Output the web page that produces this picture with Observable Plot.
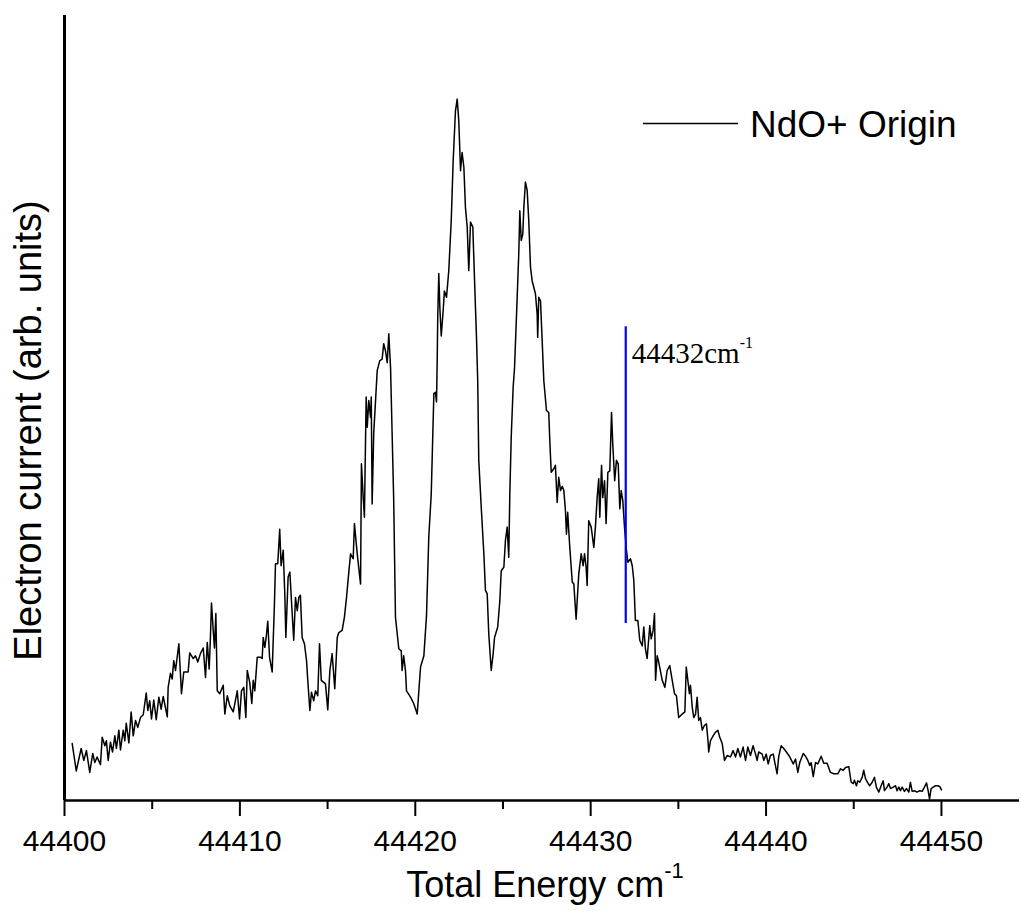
<!DOCTYPE html>
<html>
<head>
<meta charset="utf-8">
<script src="https://cdn.jsdelivr.net/npm/d3@7"></script>
<script src="https://cdn.jsdelivr.net/npm/@observablehq/plot@0.6"></script>
<style>
  body { margin: 0; background: #fff; }
  svg { display: block; }
</style>
</head>
<body>
<script>
// Photoelectron spectrum of NdO+ near its origin: total energy (cm-1) vs. electron current.
const energy = [
  44400.44, 44400.67, 44400.95, 44401.10, 44401.25, 44401.44, 44401.61, 44401.73, 44401.86, 44402.05,
  44402.15, 44402.30, 44402.39, 44402.49, 44402.62, 44402.74, 44402.87, 44402.96, 44403.10, 44403.19,
  44403.35, 44403.44, 44403.52, 44403.67, 44403.80, 44403.92, 44404.05, 44404.18, 44404.33, 44404.49,
  44404.66, 44404.75, 44404.86, 44404.96, 44405.09, 44405.23, 44405.38, 44405.51, 44405.63, 44405.86,
  44405.91, 44406.04, 44406.14, 44406.23, 44406.33, 44406.52, 44406.67, 44406.80, 44407.05, 44407.14,
  44407.34, 44407.47, 44407.60, 44407.75, 44407.91, 44408.04, 44408.14, 44408.25, 44408.32, 44408.38,
  44408.48, 44408.55, 44408.63, 44408.71, 44408.85, 44409.05, 44409.14, 44409.28, 44409.42, 44409.62,
  44409.85, 44409.98, 44410.09, 44410.22, 44410.34, 44410.42, 44410.56, 44410.68, 44410.76, 44410.85,
  44410.99, 44411.17, 44411.27, 44411.33, 44411.42, 44411.50, 44411.59, 44411.69, 44411.84, 44411.97,
  44412.03, 44412.16, 44412.27, 44412.35, 44412.47, 44412.56, 44412.62, 44412.75, 44412.85, 44412.94,
  44413.07, 44413.17, 44413.27, 44413.36, 44413.45, 44413.55, 44413.68, 44413.80, 44413.87, 44413.99,
  44414.08, 44414.21, 44414.31, 44414.44, 44414.54, 44414.64, 44414.88, 44415.01, 44415.13, 44415.26,
  44415.41, 44415.55, 44415.64, 44415.83, 44415.96, 44416.08, 44416.21, 44416.31, 44416.46, 44416.53,
  44416.69, 44416.88, 44416.93, 44417.03, 44417.10, 44417.20, 44417.26, 44417.35, 44417.45, 44417.49,
  44417.54, 44417.63, 44417.83, 44417.98, 44418.11, 44418.20, 44418.30, 44418.40, 44418.49, 44418.59,
  44418.68, 44418.77, 44418.87, 44419.06, 44419.20, 44419.25, 44419.34, 44419.44, 44419.50, 44419.73,
  44419.91, 44420.11, 44420.30, 44420.49, 44420.64, 44420.77, 44420.91, 44420.98, 44421.06, 44421.15,
  44421.21, 44421.25, 44421.28, 44421.34, 44421.40, 44421.48, 44421.59, 44421.66, 44421.78, 44421.91,
  44422.05, 44422.16, 44422.29, 44422.39, 44422.48, 44422.54, 44422.58, 44422.67, 44422.77, 44422.86,
  44422.96, 44423.05, 44423.15, 44423.28, 44423.38, 44423.49, 44423.56, 44423.62, 44423.77, 44423.91,
  44424.00, 44424.10, 44424.19, 44424.33, 44424.44, 44424.52, 44424.70, 44424.82, 44424.90, 44425.05,
  44425.14, 44425.24, 44425.33, 44425.39, 44425.47, 44425.58, 44425.66, 44425.81, 44425.90, 44425.96,
  44426.04, 44426.13, 44426.19, 44426.28, 44426.38, 44426.47, 44426.57, 44426.66, 44426.85, 44426.95,
  44426.98, 44427.04, 44427.14, 44427.33, 44427.48, 44427.61, 44427.67, 44427.75, 44427.90, 44427.99,
  44428.09, 44428.18, 44428.28, 44428.38, 44428.47, 44428.56, 44428.62, 44428.69, 44428.81, 44428.95,
  44429.04, 44429.17, 44429.32, 44429.46, 44429.57, 44429.65, 44429.74, 44429.80, 44429.89, 44430.03,
  44430.18, 44430.27, 44430.37, 44430.46, 44430.52, 44430.62, 44430.69, 44430.79, 44430.88, 44430.98,
  44431.09, 44431.19, 44431.26, 44431.37, 44431.47, 44431.57, 44431.66, 44431.74, 44431.83, 44431.93,
  44432.04, 44432.12, 44432.27, 44432.37, 44432.46, 44432.55, 44432.69, 44432.80, 44432.94, 44433.03,
  44433.12, 44433.22, 44433.37, 44433.45, 44433.56, 44433.64, 44433.70, 44433.79, 44433.88, 44434.08,
  44434.23, 44434.36, 44434.51, 44434.65, 44434.78, 44434.89, 44435.02, 44435.22, 44435.37, 44435.45,
  44435.54, 44435.63, 44435.69, 44435.79, 44435.88, 44435.98, 44436.07, 44436.16, 44436.26, 44436.36,
  44436.49, 44436.60, 44436.68, 44436.73, 44436.83, 44436.98, 44437.11, 44437.25, 44437.36, 44437.50,
  44437.63, 44437.78, 44437.97, 44438.12, 44438.26, 44438.39, 44438.54, 44438.69, 44438.83, 44438.96,
  44439.11, 44439.26, 44439.40, 44439.49, 44439.58, 44439.78, 44439.87, 44440.01, 44440.12, 44440.25,
  44440.41, 44440.50, 44440.63, 44440.72, 44440.86, 44441.01, 44441.16, 44441.35, 44441.55, 44441.68,
  44441.81, 44441.92, 44442.12, 44442.25, 44442.38, 44442.49, 44442.57, 44442.69, 44442.82, 44442.95,
  44443.14, 44443.29, 44443.48, 44443.67, 44443.86, 44444.09, 44444.24, 44444.40, 44444.53, 44444.72,
  44444.85, 44444.97, 44445.04, 44445.15, 44445.23, 44445.34, 44445.48, 44445.57, 44445.67, 44445.80,
  44445.91, 44446.05, 44446.18, 44446.29, 44446.43, 44446.56, 44446.68, 44446.75, 44446.90, 44447.00,
  44447.09, 44447.25, 44447.38, 44447.47, 44447.57, 44447.66, 44447.76, 44447.89, 44448.00, 44448.14,
  44448.23, 44448.33, 44448.46, 44448.61, 44448.76, 44448.90, 44449.03, 44449.15, 44449.24, 44449.32,
  44449.41, 44449.53, 44449.66, 44449.79, 44449.90, 44450.00
];

// Electron current, arbitrary units
const current = [
  8.1, 4.2, 7.4, 5.7, 7.1, 4.0, 6.7, 5.4, 6.2, 5.1,
  9.0, 7.8, 8.5, 5.7, 8.3, 6.9, 9.2, 7.4, 10.0, 7.2,
  10.0, 8.5, 11.0, 8.2, 12.6, 9.2, 11.4, 10.4, 11.8, 12.2,
  15.3, 12.8, 14.2, 11.6, 14.3, 11.5, 14.7, 13.0, 14.8, 11.9,
  16.1, 18.1, 17.3, 19.9, 18.5, 22.3, 15.2, 18.3, 18.3, 21.0,
  20.2, 20.6, 19.7, 20.9, 21.7, 17.5, 22.5, 18.7, 23.2, 28.1,
  24.2, 21.7, 26.6, 15.6, 15.2, 16.4, 12.3, 14.9, 13.5, 12.6,
  15.6, 11.6, 15.6, 16.1, 11.8, 18.5, 16.8, 13.8, 17.1, 15.6,
  20.4, 20.4, 20.2, 23.2, 21.8, 23.2, 25.5, 20.4, 18.3, 28.0,
  33.7, 33.7, 38.6, 33.4, 35.6, 29.4, 23.2, 31.8, 32.5, 28.4,
  22.8, 28.9, 27.0, 28.9, 29.2, 23.2, 22.3, 19.9, 17.1, 12.8,
  15.4, 14.2, 15.6, 14.9, 22.3, 17.1, 16.6, 12.9, 18.5, 20.9,
  15.9, 23.2, 23.9, 24.2, 26.1, 28.9, 32.5, 35.1, 34.4, 39.4,
  35.1, 30.8, 47.9, 43.1, 40.3, 57.4, 53.1, 56.9, 54.5, 57.4,
  42.2, 52.2, 61.2, 62.6, 62.8, 65.0, 64.0, 62.3, 66.4, 61.6,
  52.2, 42.7, 26.1, 21.6, 21.3, 18.5, 20.6, 18.5, 15.6, 14.7,
  13.8, 12.3, 19.0, 20.6, 26.3, 37.5, 43.6, 50.3, 57.9, 58.1,
  56.7, 62.6, 68.7, 75.0, 70.2, 66.1, 69.7, 72.5, 71.6, 75.4,
  82.5, 91.0, 98.1, 99.8, 96.7, 92.5, 89.6, 92.2, 90.1, 84.4,
  81.6, 75.4, 82.3, 81.6, 74.0, 65.9, 59.7, 48.4, 41.3, 35.1,
  29.9, 29.4, 23.7, 18.5, 20.9, 23.2, 24.7, 28.4, 32.7, 33.2,
  37.0, 38.9, 34.6, 43.6, 51.7, 58.8, 61.6, 71.6, 77.8, 83.9,
  79.7, 80.6, 84.4, 88.0, 86.8, 82.5, 75.9, 74.0, 72.1, 69.2,
  65.9, 71.6, 71.1, 59.7, 55.5, 55.2, 51.2, 46.7, 47.2, 47.7,
  42.4, 46.0, 44.1, 44.7, 44.1, 41.3, 37.9, 41.0, 36.0, 31.1,
  30.8, 25.8, 32.2, 35.1, 33.4, 35.1, 33.2, 30.6, 39.8, 38.9,
  36.0, 38.9, 43.1, 45.8, 40.3, 47.7, 43.1, 45.5, 39.4, 46.7,
  46.9, 55.2, 50.7, 45.5, 48.4, 47.9, 41.5, 44.1, 42.7, 38.9,
  35.6, 33.9, 34.4, 33.4, 31.3, 25.6, 25.6, 22.8, 22.0, 24.7,
  21.6, 20.2, 24.9, 23.0, 24.2, 26.6, 17.1, 20.6, 19.7, 17.1,
  16.1, 18.5, 19.2, 17.1, 15.2, 14.9, 11.8, 12.3, 12.6, 19.0,
  17.1, 15.2, 16.4, 13.3, 11.8, 12.3, 14.7, 11.4, 11.8, 10.0,
  10.7, 10.9, 8.8, 6.9, 8.5, 9.2, 9.7, 10.0, 9.0, 8.1,
  5.7, 6.4, 6.2, 7.1, 6.2, 7.4, 6.2, 7.6, 5.7, 7.6,
  6.4, 7.8, 6.6, 5.7, 6.9, 6.6, 5.7, 6.6, 5.2, 6.4,
  6.6, 5.4, 3.8, 6.2, 7.8, 7.4, 6.9, 6.2, 5.2, 5.9,
  4.0, 5.4, 6.7, 6.3, 5.7, 5.0, 5.4, 3.4, 5.4, 5.2,
  6.3, 5.3, 5.3, 4.0, 3.8, 3.8, 4.5, 4.3, 4.7, 4.8,
  2.6, 2.4, 2.9, 2.1, 2.8, 2.6, 3.3, 4.3, 3.1, 2.5,
  2.1, 2.6, 3.3, 1.9, 1.2, 2.1, 2.8, 1.4, 1.9, 2.4,
  1.7, 1.9, 2.1, 1.4, 1.9, 1.4, 1.9, 1.3, 1.7, 1.2,
  2.6, 1.3, 1.4, 1.2, 1.4, 1.3, 1.9, 2.5, 1.4, 0.2,
  1.7, 1.9, 2.1, 2.1, 2.0, 1.5
];

const majorTicks = [44400, 44410, 44420, 44430, 44440, 44450];
const minorTicks = [44405, 44415, 44425, 44435, 44445];

// Marked origin position and the current span its marker covers
const originEnergy = [44432];
const originSpan = [25.2, 67.4];

const seriesName = "NdO+ Origin";
const xLabel = "Total Energy cm";
const yLabel = "Electron current (arb. units)";
const unitSup = "-1";

const spectrum = energy.map((e, i) => ({energy: e, current: current[i]}));
const originText = `${originEnergy[0]}cm`;

const chart = Plot.plot({
  width: 1021,
  height: 911,
  marginLeft: 64,
  marginRight: 2,
  marginTop: 15,
  marginBottom: 111,
  x: {domain: [44400, 44454.45], label: null},
  y: {domain: [0, 111.7], axis: null, label: null},
  style: {
    fontFamily: "'Liberation Sans', Arial, sans-serif",
    background: "#fff",
    color: "#000"
  },
  marks: [
    Plot.line(spectrum, {x: "energy", y: "current", stroke: "#000", strokeWidth: 1.5}),
    Plot.ruleX(originEnergy, {y1: originSpan[0], y2: originSpan[1], stroke: "#0000ff", strokeWidth: 2.2}),
    Plot.text(originEnergy, {
      x: d => d, y: originSpan[1], text: () => originText,
      dx: 6, dy: 36, textAnchor: "start", lineAnchor: "bottom",
      fontFamily: "'Liberation Serif', 'Times New Roman', serif", fontSize: 29
    }),
    Plot.axisX({ticks: minorTicks, tickSize: 9, tickFormat: () => "", label: null, strokeWidth: 2}),
    Plot.axisX({
      ticks: majorTicks, tickSize: 16, tickPadding: 13,
      tickFormat: d => String(d), fontSize: 30, label: null, strokeWidth: 2
    }),
    Plot.ruleY([0], {stroke: "#000", strokeWidth: 2.6}),
    Plot.ruleX([44400], {stroke: "#000", strokeWidth: 3}),
    Plot.text([xLabel], {
      frameAnchor: "bottom", text: d => d, dx: 3, dy: 96,
      lineAnchor: "bottom", textAnchor: "middle", fontSize: 36
    }),
    Plot.text([yLabel], {
      frameAnchor: "left", text: d => d, rotate: -90, dx: -24, dy: 22.5,
      lineAnchor: "bottom", textAnchor: "middle", fontSize: 38
    })
  ]
});

const svg = d3.select(chart);

// Superscript units on the axis title and the origin annotation
svg.selectAll("text").filter(function () { return this.textContent === xLabel; })
  .append("tspan").attr("dy", -19).attr("font-size", 22).text(unitSup);
svg.selectAll("text").filter(function () { return this.textContent === originText; })
  .append("tspan").attr("dy", -15).attr("font-size", 16).text(unitSup);

// Legend entry, upper right
const legend = svg.append("g");
legend.append("line")
  .attr("x1", 643).attr("x2", 738).attr("y1", 123.5).attr("y2", 123.5)
  .attr("stroke", "#000").attr("stroke-width", 1.6);
legend.append("text")
  .attr("x", 750).attr("y", 136.7).attr("font-size", 37).attr("fill", "#000")
  .attr("text-anchor", "start")
  .text(seriesName);

document.body.appendChild(chart);
</script>
</body>
</html>
